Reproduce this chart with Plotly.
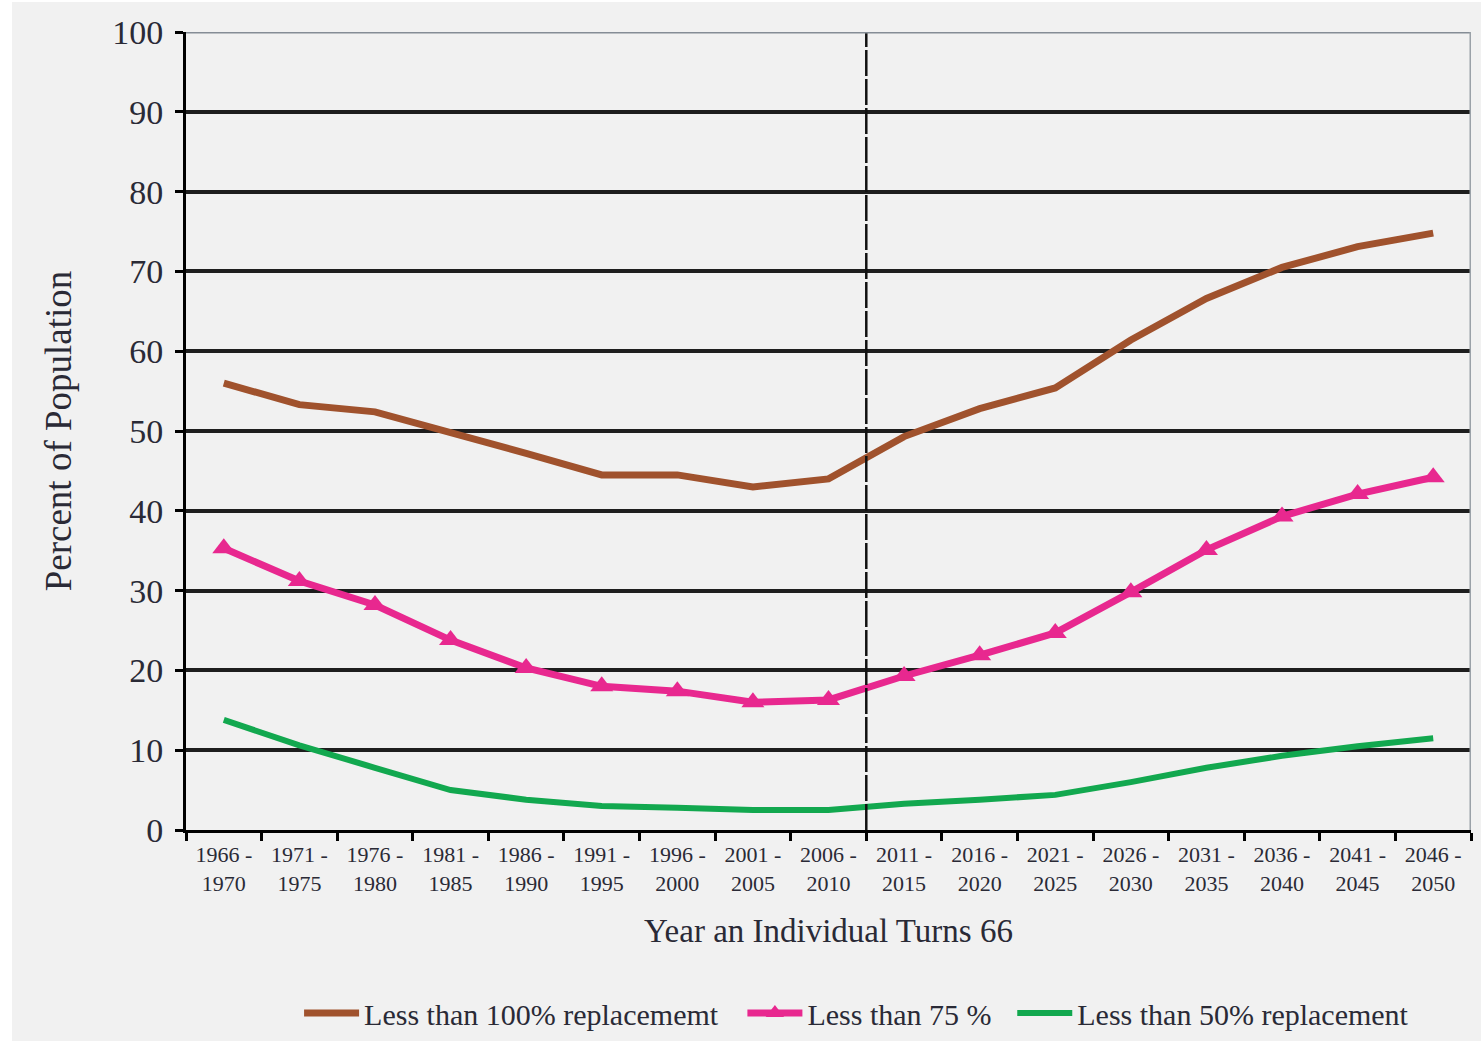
import plotly.graph_objects as go

categories = ["1966 -<br>1970", "1971 -<br>1975", "1976 -<br>1980", "1981 -<br>1985", "1986 -<br>1990",
              "1991 -<br>1995", "1996 -<br>2000", "2001 -<br>2005", "2006 -<br>2010", "2011 -<br>2015",
              "2016 -<br>2020", "2021 -<br>2025", "2026 -<br>2030", "2031 -<br>2035", "2036 -<br>2040",
              "2041 -<br>2045", "2046 -<br>2050"]

less_100 = [56.0, 53.3, 52.4, 49.9, 47.2, 44.5, 44.5, 43.0, 44.0, 49.3, 52.8, 55.4, 61.4, 66.6, 70.5, 73.1, 74.8]
less_75 = [35.3, 31.2, 28.2, 23.8, 20.3, 18.0, 17.4, 16.0, 16.3, 19.3, 21.9, 24.7, 29.8, 35.1, 39.3, 42.1, 44.2]
less_50 = [13.8, 10.6, 7.8, 5.0, 3.8, 3.0, 2.8, 2.5, 2.5, 3.3, 3.8, 4.4, 6.0, 7.8, 9.3, 10.5, 11.5]

y_ticks = [0, 10, 20, 30, 40, 50, 60, 70, 80, 90, 100]

FONT = "Liberation Serif"
TXT = "#2a2a36"
LEG_FONT = dict(size=30, family=FONT, color=TXT)

fig = go.Figure()
fig.add_trace(go.Scatter(x=categories, y=less_100, mode="lines", name="Less than 100% replacememt",
                         line=dict(color="#A0522D", width=7), legend="legend"))
fig.add_trace(go.Scatter(x=categories, y=less_75, mode="lines+markers", name="Less than 75 %",
                         line=dict(color="#E8288F", width=7),
                         marker=dict(symbol="triangle-up", size=20, color="#E8288F"), legend="legend2"))
fig.add_trace(go.Scatter(x=categories, y=less_50, mode="lines", name="Less than 50% replacement",
                         line=dict(color="#12A84F", width=6), legend="legend3"))

# dashed divider between historical and projected periods
fig.add_shape(type="line", xref="x", yref="y", x0=8.5, x1=8.5, y0=0, y1=100,
              line=dict(color="#111111", width=2.5, dash="26px,3px"), layer="above")
# top and right gray borders
fig.add_shape(type="line", xref="x", yref="y", x0=-0.5, x1=16.5, y0=100, y1=100,
              line=dict(color="#858d96", width=3), layer="above")
fig.add_shape(type="line", xref="x", yref="y", x0=16.5, x1=16.5, y0=0, y1=100,
              line=dict(color="#9aa1a8", width=3), layer="above")

leg_common = dict(orientation="h", yref="container", yanchor="middle", xanchor="left",
                  bgcolor="rgba(0,0,0,0)", font=LEG_FONT, itemwidth=55)

fig.update_layout(
    width=1469, height=1039,
    paper_bgcolor="#f1f1f1", plot_bgcolor="#f1f1f1",
    margin=dict(l=174, r=10, t=30, b=211, autoexpand=False),
    font=dict(family=FONT, color=TXT),
    showlegend=True,
    legend=dict(x=0.088, y=0.027, **leg_common),
    legend2=dict(x=0.433, y=0.027, **leg_common),
    legend3=dict(x=0.643, y=0.027, **leg_common),
    xaxis=dict(type="category", tickson="boundaries", ticks="outside", ticklen=8, tickwidth=3,
               tickcolor="black", showgrid=False, showline=True, linecolor="black", linewidth=3,
               tickfont=dict(size=22, family=FONT, color=TXT), range=[-0.5, 16.5],
               ticklabelstandoff=3,
               title=dict(text="Year an Individual Turns 66", font=dict(size=33, family=FONT, color=TXT),
                          standoff=24),
               zeroline=False),
    yaxis=dict(range=[0, 100], tickvals=y_ticks, ticks="outside", ticklen=8, tickwidth=3,
               tickcolor="black", showgrid=True, gridcolor="#1e1e1e", gridwidth=3.5,
               showline=True, linecolor="black", linewidth=3, zeroline=False,
               tickfont=dict(size=34, family=FONT, color=TXT), ticklabelstandoff=5,
               title=dict(text="Percent of Population", font=dict(size=37, family=FONT, color=TXT),
                          standoff=30)),
)

fig.write_html("out.html",
               post_script="document.body.style.margin='2px 0 0 12px';document.body.style.overflow='hidden';")
